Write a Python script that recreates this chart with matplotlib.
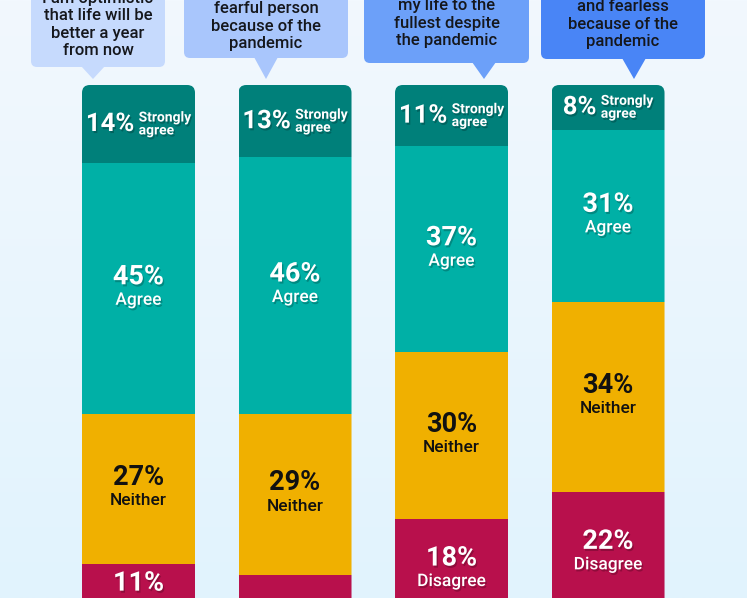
import numpy as np
import matplotlib.pyplot as plt
import matplotlib.patheffects as pe
from matplotlib.patches import FancyBboxPatch, Polygon
from matplotlib.offsetbox import TextArea, HPacker, AnnotationBbox

plt.rcParams['font.family'] = ['Roboto', 'DejaVu Sans']

# data
statements = [
    "I am optimistic\nthat life will be\nbetter a year\nfrom now",
    "I am a more\nfearful person\nbecause of the\npandemic",
    "I am living\nmy life to the\nfullest despite\nthe pandemic",
    "I feel more brave\nand fearless\nbecause of the\npandemic",
]
strongly_agree = [14, 13, 11, 8]
agree = [45, 46, 37, 31]
neither = [27, 29, 30, 34]
disagree = [11, 11, 18, 22]
seg_names = ["Strongly\nagree", "Agree", "Neither", "Disagree"]

# styling
seg_colors = ["#00807a", "#00b0a6", "#f0b000", "#b8104c"]
txt_colors = ["white", "white", "#111111", "white"]
bubble_colors = ["#c6dafd", "#a9c6fc", "#6ca0f9", "#4985f6"]
# callout boxes in pixels: left, right, bottom, tip x, text bottom
bubbles = [(31, 165, 67, 93, 58), (184, 348, 58, 266, 51),
           (364, 529, 63, 484, 48), (541, 705, 59, 634, 49)]
W, H = 747, 598

fig = plt.figure(figsize=(W / 100, H / 100), dpi=100)

# background + callouts (pixel space)
bg = fig.add_axes([0, 0, 1, 1])
bg.set_xlim(0, W)
bg.set_ylim(H, 0)
bg.axis('off')
top_c = np.array([0xf2, 0xf8, 0xfe]) / 255
bot_c = np.array([0xe1, 0xf3, 0xfd]) / 255
t = np.linspace(0, 1, 256)[:, None, None]
grad = top_c * (1 - t) + bot_c * t
bg.imshow(grad, extent=[0, W, H, 0], aspect='auto', zorder=0)

for (x0, x1, yb, tip, ty), col, s in zip(bubbles, bubble_colors, statements):
    box = FancyBboxPatch((x0, -80), x1 - x0, yb + 80,
                         boxstyle="round,pad=0,rounding_size=6",
                         fc=col, ec='none', zorder=1)
    bg.add_patch(box)
    bg.add_patch(Polygon([(tip - 12, yb - 1), (tip + 12, yb - 1), (tip, 79)],
                         closed=True, fc=col, ec='none', zorder=1))
    bg.text((x0 + x1) / 2, ty, s, ha='center', va='bottom', fontweight='medium',
            fontsize=12, color='#15171c', linespacing=1.2, zorder=2)

# bars (data space)
ax = fig.add_axes([0, 0, 1, 1])
ax.patch.set_alpha(0)
ax.axis('off')
ax.set_xlim(-0.885, 3.888)
ax.set_ylim(92.1, -15.26)

x = np.arange(len(statements))
width = 0.722
series = [strongly_agree, agree, neither, disagree]
totals = np.sum(series, axis=0)

clips = []
for xi, tot in zip(x, totals):
    clip = FancyBboxPatch((xi - width / 2, 0), width, tot + 20,
                          boxstyle="round,pad=0,rounding_size=0.05",
                          mutation_aspect=28.1, transform=ax.transData)
    clips.append(clip)

shadow = [pe.withSimplePatchShadow(offset=(1, -1.5), shadow_rgbFace='black', alpha=0.22)]

bottom = np.zeros(len(x))
for k, vals in enumerate(series):
    bars = ax.bar(x, vals, width=width, bottom=bottom, color=seg_colors[k],
                  linewidth=0, zorder=2)
    for b, c in zip(bars, clips):
        b.set_clip_path(c)
    for xi, v, b0 in zip(x, vals, bottom):
        mid = b0 + v / 2
        fx = shadow if txt_colors[k] == 'white' else None
        if k == 0:
            pct = TextArea(f"{v}%", textprops=dict(fontsize=18.5, fontweight='semibold',
                                                    color=txt_colors[k], path_effects=fx))
            lab = TextArea(seg_names[k], textprops=dict(fontsize=10, fontweight='semibold',
                                                        color=txt_colors[k], linespacing=0.9,
                                                        path_effects=fx))
            pack = HPacker(children=[pct, lab], align='center', pad=0, sep=3)
            ab = AnnotationBbox(pack, (xi, mid), frameon=False, zorder=4,
                                box_alignment=(0.5, 0.5))
            ax.add_artist(ab)
        else:
            ax.annotate(f"{v}%", (xi, mid), xytext=(0, 8.3), textcoords='offset points',
                        ha='center', va='center', fontsize=19.5, fontweight='semibold',
                        color=txt_colors[k], path_effects=fx, zorder=4)
            ax.annotate(seg_names[k], (xi, mid), xytext=(0, -8.6), textcoords='offset points',
                        ha='center', va='center', fontsize=12.5, fontweight='medium',
                        color=txt_colors[k], path_effects=fx, zorder=4)
    bottom = bottom + np.array(vals)

fig.savefig("out.png", dpi=100)
